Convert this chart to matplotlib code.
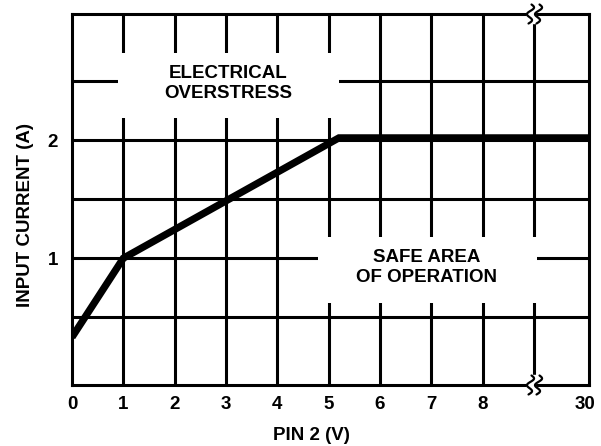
import numpy as np
import matplotlib
matplotlib.use("Agg")
import matplotlib.pyplot as plt
import matplotlib.transforms as mtransforms
from matplotlib.patches import Rectangle

plt.rcParams['font.family'] = ['Liberation Sans', 'DejaVu Sans']
plt.rcParams['font.weight'] = 'bold'

# safe operating area boundary (PIN 2 volts vs input current amps)
pin_v = [0.0, 1.0, 5.2, 10.1]
current_a = [0.33, 1.0, 2.02, 2.02]

x_ticks = [0, 1, 2, 3, 4, 5, 6, 7, 8, 10]
x_labels = ['0', '1', '2', '3', '4', '5', '6', '7', '8', '30']
y_ticks = [1, 2]
y_labels = ['1', '2']
grid_x = [1, 2, 3, 4, 5, 6, 7, 8, 9]
grid_y = [0.5, 1.0, 1.5, 2.0, 2.5]

fs = 13.5

fig = plt.figure(figsize=(6.01, 4.46), dpi=100)
ax = fig.add_axes([0.1198, 0.1368, 0.8610, 0.8318])
ax.set_xlim(0, 10.08)
ax.set_ylim(-0.075, 3.07)

lw_grid = 2.2
ax.vlines(grid_x, -0.075, 3.07, color='black', lw=lw_grid, zorder=1)
ax.hlines(grid_y, 0, 10.08, color='black', lw=lw_grid, zorder=1)

# white boxes behind the labels break the grid
ax.add_patch(Rectangle((0.9, 2.19), 4.3, 0.55, facecolor='white', edgecolor='none', zorder=2))
ax.add_patch(Rectangle((4.79, 0.62), 4.27, 0.56, facecolor='white', edgecolor='none', zorder=2))

ax.plot(pin_v, current_a, color='black', lw=5.2, solid_capstyle='butt',
        solid_joinstyle='miter', zorder=4)

ax.text(3.05, 2.48, 'ELECTRICAL\nOVERSTRESS', ha='center', va='center',
        fontsize=fs, fontweight='bold', linespacing=1.25, zorder=5)
ax.text(6.9, 0.92, 'SAFE AREA\nOF OPERATION', ha='center', va='center',
        fontsize=fs, fontweight='bold', linespacing=1.25, zorder=5)

ax.set_xticks(x_ticks)
ax.set_xticklabels(x_labels)
ax.set_yticks(y_ticks)
ax.set_yticklabels(y_labels)
ax.tick_params(length=0, labelsize=fs, pad=8)
ax.tick_params(axis='y', pad=10)
for lab in ax.get_xticklabels() + ax.get_yticklabels():
    lab.set_fontweight('bold')
for sp in ax.spines.values():
    sp.set_linewidth(2.2)
    sp.set_zorder(6)

fig.text(311 / 601, 1 - 436 / 446, 'PIN 2 (V)', ha='center', va='center',
         fontsize=fs, fontweight='bold')
fig.text(26 / 601, 1 - 215 / 446, 'INPUT CURRENT (A)', ha='center', va='center',
         rotation=90, fontsize=fs, fontweight='bold')

# axis break marks at x = 9 on top and bottom spines (units: inches)
t = np.linspace(0, 1, 80)
sx = 0.03 * np.sin(3 * np.pi * t) - 0.03 * (t - 0.5)
sy = 0.19 * (0.5 - t)
for yb in (3.07, -0.075):
    tr = fig.dpi_scale_trans + mtransforms.ScaledTranslation(9.0, yb, ax.transData)
    xl, xr = sx - 0.04, sx + 0.04
    ax.fill(np.concatenate([xl, xr[::-1]]), np.concatenate([sy, sy[::-1]]),
            color='white', transform=tr, clip_on=False, zorder=7)
    for xs in (xl, xr):
        ax.plot(xs, sy, color='black', lw=1.6, transform=tr, clip_on=False,
                zorder=8, solid_capstyle='round')

fig.savefig('out.png', dpi=100)
